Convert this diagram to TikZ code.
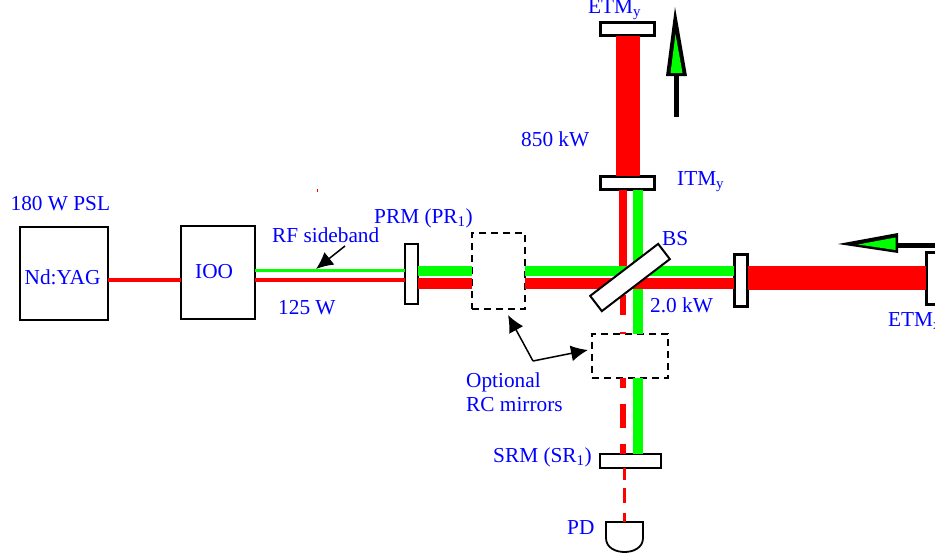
\documentclass[tikz,border=0pt]{standalone}
\usepackage{fontspec}
\setmainfont{Liberation Serif}
\usepackage{xcolor}
\usepackage{tikz}
\usetikzlibrary{arrows.meta,shapes.geometric}
\tikzset{
    lbl/.style={text=blue, inner sep=0pt, anchor=base west, font=\fontsize{21.3}{25}\selectfont},
    box/.style={draw, line width=2pt, inner sep=0pt, outer sep=0pt},
    mirror/.style={box, line width=3pt, fill=white},
    optbox/.style={box, line width=1.3pt, dash pattern=on 7pt off 5pt},
    beam/.style={line cap=butt},
    pointer/.style={line width=1.5pt, line join=miter, -{Latex[length=17pt,width=16pt]}},
}

\begin{document}
\begin{tikzpicture}[x=1pt,y=-1pt]
    \clip (0,0) rectangle (935,554);

    % Source and input optics
    \node[box, minimum width=88pt, minimum height=93.5pt] (yag) at (63.5,273.5) {};
    \node[box, minimum width=74pt, minimum height=93.5pt] (ioo) at (218,272.5) {};

    % Mirrors
    \node[box, fill=white, minimum width=13pt, minimum height=60pt] (prm) at (411.5,274) {};
    \node[mirror, minimum width=13.5pt, minimum height=52pt] (itmx) at (741,280) {};
    \node[mirror, minimum width=40pt, minimum height=52pt] (etmx) at (946,278.5) {};
    \node[mirror, minimum width=54pt, minimum height=13.5pt] (itmy) at (627.5,183) {};
    \node[mirror, minimum width=54pt, minimum height=13.5pt] (etmy) at (627.5,29) {};
    \node[box, fill=white, minimum width=60.5pt, minimum height=14pt] (srm) at (630.5,460.5) {};

    % Optional mirror positions
    \node[optbox, minimum width=53pt, minimum height=76pt] (rca) at (498.5,271) {};
    \node[optbox, minimum width=76pt, minimum height=44pt] (rcb) at (630,356) {};

    % Beam rows and columns
    \coordinate (greenrow) at (0,271);
    \coordinate (redrow) at (0,283.5);
    \coordinate (redcol) at (623,0);
    \coordinate (greencol) at (638,0);

    % Thin beams
    \draw[beam, red, line width=4pt] (yag.east |- 0,280) -- (ioo.west |- 0,280);
    \draw[beam, red, line width=3.5pt] (ioo.east |- 0,280) -- (prm.west |- 0,280);
    \draw[beam, green, line width=2.5pt] (ioo.east |- 0,270.5) -- (prm.west |- 0,270.5);

    % Vertical beams
    \draw[beam, red, line width=8pt] (redcol |- itmy.south) -- (redcol |- greenrow);
    \draw[beam, green, line width=10pt] (greencol |- itmy.south) -- (greencol |- rcb.north);
    \draw[beam, red, line width=24pt] (628,0 |- etmy.south) -- (628,0 |- itmy.north);
    \draw[beam, green, line width=10pt] (greencol |- rcb.south) -- (greencol |- srm.north);
    \draw[beam, red, line width=6pt, dash pattern=on 20pt off 17pt] (redcol |- 0,295) -- (redcol |- rcb.north);
    \draw[beam, red, line width=6pt, dash pattern=on 24pt off 16pt, dash phase=14pt] (redcol |- rcb.south) -- (redcol |- srm.north);

    % Horizontal beams
    \draw[beam, green, line width=10pt] (prm.east |- greenrow) -- (rca.west |- greenrow);
    \draw[beam, red, line width=11pt] (prm.east |- redrow) -- (rca.west |- redrow);
    \draw[beam, green, line width=10pt] (rca.east |- greenrow) -- (itmx.west |- greenrow);
    \draw[beam, red, line width=11pt] (rca.east |- redrow) -- (itmx.west |- redrow);
    \draw[beam, red, line width=24pt] (itmx.east |- 0,278) -- (etmx.west |- 0,278);

    % Beam splitter
    \node[box, fill=white, rotate=37.4, minimum width=85.6pt, minimum height=19.2pt] (bs) at (630,277.5) {};

    % Photodiode
    \coordinate (pdtop) at (624.5,522);
    \draw[line width=1.8pt] (606,522) -- (643,522) -- (643,538)
        .. controls (643,548) and (633,552) .. (624.5,552)
        .. controls (616,552) and (606,548) .. (606,538) -- cycle;
    \draw[beam, red, line width=3pt, dash pattern=on 12pt off 8pt on 15pt off 10pt] (pdtop |- srm.south) -- (pdtop);

    % Motion arrows
    \fill (666,76) -- (687,76) -- (675,7) -- cycle;
    \fill[green] (670.5,73) -- (682.5,73) -- (675.5,34) -- cycle;
    \draw[line width=5pt] (676,76) -- (676,117);
    \fill (898,233) -- (898,253) -- (838,244) -- cycle;
    \fill[green] (895.5,237.5) -- (895.5,250) -- (858,244.5) -- cycle;
    \draw[line width=5pt] (898,245.5) -- (935,245.5);

    % Pointers
    \coordinate (rftail) at (345,246);
    \coordinate (rftip) at (316,269);
    \coordinate (rcbend) at (533,361);
    \draw[pointer] (rftail) -- (rftip);
    \draw[pointer] (rcbend) -- ([shift={(9.5,6)}]rca.south);
    \draw[pointer] (rcbend) -- ([shift={(-4,-6)}]rcb.west);

    % Stray tick
    \fill[red] (317,189) rectangle (318,192);

    % Labels
    \node[lbl] (lpsl) at (10.5,210) {180 W PSL};
    \node[lbl] (lyag) at (24.5,284) {Nd:YAG};
    \node[lbl] (lioo) at (195,278) {IOO};
    \node[lbl] (lrf) at (272,242) {RF sideband};
    \node[lbl] (lpow) at (278,314) {125 W};
    \node[lbl] (lprm) at (374,223) {PRM (PR\textsubscript{1})};
    \node[lbl] (larm) at (521,146) {850 kW};
    \node[lbl] (letmy) at (588,13) {ETM\textsubscript{y}};
    \node[lbl] (litmy) at (677,185) {ITM\textsubscript{y}};
    \node[lbl] (lbs) at (662,245) {BS};
    \node[lbl] (lrec) at (650,312) {2.0 kW};
    \node[lbl] (letmx) at (888,326) {ETM\textsubscript{x}};
    \node[lbl] (lopta) at (466,387) {Optional};
    \node[lbl] (loptb) at (466,411) {RC mirrors};
    \node[lbl] (lsrm) at (493,462) {SRM (SR\textsubscript{1})};
    \node[lbl] (lpd) at (567,534) {PD};

\end{tikzpicture}
\end{document}
